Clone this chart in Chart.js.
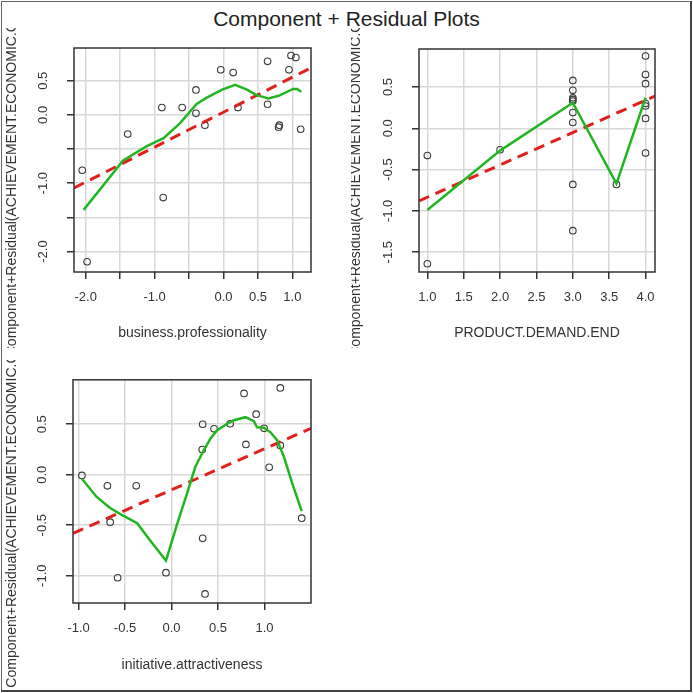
<!DOCTYPE html>
<html>
<head>
<meta charset="utf-8">
<script src="https://cdn.jsdelivr.net/npm/chart.js@4.4.1/dist/chart.umd.min.js"></script>
<style>
body { margin: 0; background: #fff; width: 693px; height: 693px; position: relative; overflow: hidden; font-family: "Liberation Sans", Arial, sans-serif; }
#frame { position: absolute; left: 1px; top: 1px; width: 688px; height: 688px; border: 1px solid #666; border-right: 2px solid #444; border-bottom: 2px solid #444; z-index: 5; pointer-events: none; }
#title { position: absolute; left: 0; width: 693px; top: 7px; text-align: center; font-size: 21px; line-height: 24px; color: #222; }
canvas { position: absolute; }
</style>
</head>
<body>
<div id="title">Component + Residual Plots</div>
<canvas id="c1" width="347" height="320" style="left:4px;top:28px"></canvas>
<canvas id="c2" width="340" height="320" style="left:351px;top:28px"></canvas>
<canvas id="c3" width="347" height="331" style="left:4px;top:360px"></canvas>
<div id="frame"></div>
<script>
// ---- business.professionality ----
const bpX = [-2.05, -1.98, -1.39, -0.895, -0.875, -0.60, -0.40, -0.40, -0.27, -0.04, 0.14, 0.21, 0.64, 0.64, 0.80, 0.81, 0.95, 0.98, 1.05, 1.12];
const bpY = [-0.81, -2.15, -0.28, 0.107, -1.21, 0.107, 0.366, 0.024, -0.15, 0.66, 0.62, 0.107, 0.785, 0.156, -0.18, -0.15, 0.66, 0.87, 0.84, -0.21];
const bpSmoothX = [-2.03, -1.46, -1.12, -0.87, -0.63, -0.39, -0.25, -0.02, 0.17, 0.34, 0.48, 0.65, 0.80, 1.01, 1.07, 1.13];
const bpSmoothY = [-1.39, -0.67, -0.46, -0.34, -0.12, 0.16, 0.25, 0.37, 0.44, 0.37, 0.29, 0.24, 0.28, 0.38, 0.38, 0.34];
const bpFitX = [-2.17, 1.27];
const bpFitY = [-1.07, 0.69];
const bpXTicks = [-2, -1.5, -1, -0.5, 0, 0.5, 1];
const bpXLabels = ['-2.0', '', '-1.0', '', '0.0', '0.5', '1.0'];
const bpYTicks = [-2, -1.5, -1, -0.5, 0, 0.5];
const bpYLabels = ['-2.0', '', '-1.0', '', '0.0', '0.5'];

// ---- PRODUCT.DEMAND.END ----
const pdX = [1, 1, 2, 3, 3, 3, 3, 3, 3, 3, 3, 3, 3.6, 4, 4, 4, 4, 4, 4, 4];
const pdY = [-0.33, -1.64, -0.26, 0.58, 0.46, 0.37, 0.35, 0.33, 0.19, 0.07, -0.68, -1.24, -0.68, 0.875, 0.65, 0.54, 0.30, 0.27, 0.12, -0.30];
const pdSmoothX = [1, 2, 3, 3.6, 4];
const pdSmoothY = [-0.99, -0.27, 0.31, -0.67, 0.37];
const pdFitX = [0.885, 4.13];
const pdFitY = [-0.88, 0.39];
const pdXTicks = [1, 1.5, 2, 2.5, 3, 3.5, 4];
const pdXLabels = ['1.0', '1.5', '2.0', '2.5', '3.0', '3.5', '4.0'];
const pdYTicks = [-1.5, -1, -0.5, 0, 0.5];
const pdYLabels = ['-1.5', '-1.0', '-0.5', '0.0', '0.5'];

// ---- initiative.attractiveness ----
const iaX = [-0.964, -0.69, -0.66, -0.58, -0.38, -0.06, 0.335, 0.33, 0.335, 0.36, 0.457, 0.63, 0.78, 0.80, 0.91, 0.996, 1.05, 1.17, 1.17, 1.40];
const iaY = [-0.007, -0.11, -0.47, -1.02, -0.11, -0.97, 0.50, 0.25, -0.63, -1.18, 0.455, 0.505, 0.805, 0.30, 0.60, 0.46, 0.073, 0.86, 0.29, -0.43];
const iaSmoothX = [-0.964, -0.806, -0.66, -0.55, -0.37, -0.23, -0.06, 0.06, 0.165, 0.255, 0.345, 0.417, 0.49, 0.60, 0.67, 0.795, 0.885, 0.92, 0.993, 1.065, 1.137, 1.21, 1.30, 1.40];
const iaSmoothY = [-0.04, -0.22, -0.33, -0.39, -0.48, -0.65, -0.85, -0.49, -0.19, 0.076, 0.24, 0.356, 0.44, 0.505, 0.54, 0.57, 0.53, 0.47, 0.465, 0.42, 0.34, 0.175, -0.09, -0.36];
const iaFitX = [-1.06, 1.50];
const iaFitY = [-0.58, 0.46];
const iaXTicks = [-1, -0.5, 0, 0.5, 1];
const iaXLabels = ['-1.0', '-0.5', '0.0', '0.5', '1.0'];
const iaYTicks = [-1, -0.5, 0, 0.5];
const iaYLabels = ['-1.0', '-0.5', '0.0', '0.5'];

const yTitle = 'Component+Residual(ACHIEVEMENT.ECONOMIC.GROWTH)';
const FONT = '"Liberation Sans", Arial, sans-serif';

const pairs = (xs, ys) => xs.map((x, i) => ({ x: x, y: ys[i] }));

// box around plot + long y label (clipped by canvas like in R)
const boxAndLabel = {
    id: 'boxAndLabel',
    afterDraw(chart, args, opts) {
        const { ctx, chartArea: a } = chart;
        ctx.save();
        ctx.strokeStyle = '#333';
        ctx.lineWidth = 1.5;
        ctx.strokeRect(a.left, a.top, a.right - a.left, a.bottom - a.top);
        ctx.translate(opts.x, (a.top + a.bottom) / 2);
        ctx.rotate(-Math.PI / 2);
        ctx.font = '14px ' + FONT;
        ctx.fillStyle = '#333';
        ctx.textAlign = 'center';
        ctx.textBaseline = 'middle';
        ctx.fillText(yTitle, 0, 0);
        ctx.restore();
    }
};

function makePanel(id, p) {
    const ctx = document.getElementById(id).getContext('2d');
    return new Chart(ctx, {
        type: 'scatter',
        data: {
            datasets: [{
                data: pairs(p.xs, p.ys),
                pointStyle: 'circle',
                pointRadius: 3.3,
                pointBorderWidth: 1.1,
                pointBorderColor: '#3a3a3a',
                pointBackgroundColor: 'rgba(0,0,0,0)',
                showLine: false,
                order: 3
            }, {
                data: pairs(p.fitX, p.fitY),
                showLine: true,
                pointRadius: 0,
                borderColor: '#e0201c',
                borderWidth: 3,
                borderDash: [11, 7],
                order: 2
            }, {
                data: pairs(p.smX, p.smY),
                showLine: true,
                pointRadius: 0,
                borderColor: '#22b522',
                borderWidth: 2.5,
                tension: 0,
                order: 1
            }]
        },
        options: {
            responsive: false,
            animation: false,
            devicePixelRatio: 1,
            layout: { padding: { top: p.padTop, right: p.padRight, left: 0, bottom: 0 } },
            plugins: {
                legend: { display: false },
                tooltip: { enabled: false },
                boxAndLabel: { x: p.labelX }
            },
            scales: {
                x: {
                    type: 'linear',
                    min: p.xMin, max: p.xMax,
                    afterBuildTicks: s => { s.ticks = p.xTicks.map(v => ({ value: v })); },
                    afterFit: s => { s.height = p.xAxisH; },
                    ticks: {
                        autoSkip: false, maxRotation: 0,
                        padding: 11,
                        color: '#333',
                        font: { family: FONT, size: 13 },
                        callback: (v, i) => p.xLabels[i]
                    },
                    grid: { color: '#d8d8d8', lineWidth: 1.5, tickColor: '#333', tickWidth: 1.5, tickLength: 7 },
                    border: { display: false },
                    title: {
                        display: true, text: p.xTitle, color: '#333',
                        font: { family: FONT, size: 14 },
                        padding: { top: 0, bottom: p.xTitlePad }
                    }
                },
                y: {
                    type: 'linear',
                    min: p.yMin, max: p.yMax,
                    afterBuildTicks: s => { s.ticks = p.yTicks.map(v => ({ value: v })); },
                    afterFit: s => { s.width = p.yAxisW; },
                    ticks: {
                        autoSkip: false, minRotation: 90, maxRotation: 90,
                        crossAlign: 'center',
                        padding: 12,
                        color: '#333',
                        font: { family: FONT, size: 13 },
                        callback: (v, i) => p.yLabels[i]
                    },
                    grid: { color: '#d8d8d8', lineWidth: 1.5, tickColor: '#333', tickWidth: 1.5, tickLength: 7 },
                    border: { display: false }
                }
            }
        },
        plugins: [boxAndLabel]
    });
}

makePanel('c1', {
    xs: bpX, ys: bpY, smX: bpSmoothX, smY: bpSmoothY, fitX: bpFitX, fitY: bpFitY,
    xTicks: bpXTicks, xLabels: bpXLabels, yTicks: bpYTicks, yLabels: bpYLabels,
    xMin: -2.17, xMax: 1.27, yMin: -2.30, yMax: 0.98,
    xTitle: 'business.professionality',
    padTop: 20, padRight: 40, xAxisH: 76, yAxisW: 70, xTitlePad: 6.6, labelX: 8.5
});

makePanel('c2', {
    xs: pdX, ys: pdY, smX: pdSmoothX, smY: pdSmoothY, fitX: pdFitX, fitY: pdFitY,
    xTicks: pdXTicks, xLabels: pdXLabels, yTicks: pdYTicks, yLabels: pdYLabels,
    xMin: 0.885, xMax: 4.13, yMin: -1.74, yMax: 0.96,
    xTitle: 'PRODUCT.DEMAND.END',
    padTop: 21, padRight: 36, xAxisH: 76, yAxisW: 68, xTitlePad: 6.3, labelX: 5
});

makePanel('c3', {
    xs: iaX, ys: iaY, smX: iaSmoothX, smY: iaSmoothY, fitX: iaFitX, fitY: iaFitY,
    xTicks: iaXTicks, xLabels: iaXLabels, yTicks: iaYTicks, yLabels: iaYLabels,
    xMin: -1.06, xMax: 1.50, yMin: -1.27, yMax: 0.94,
    xTitle: 'initiative.attractiveness',
    padTop: 19, padRight: 40, xAxisH: 88, yAxisW: 69, xTitlePad: 17.6, labelX: 8.5
});
</script>
</body>
</html>
